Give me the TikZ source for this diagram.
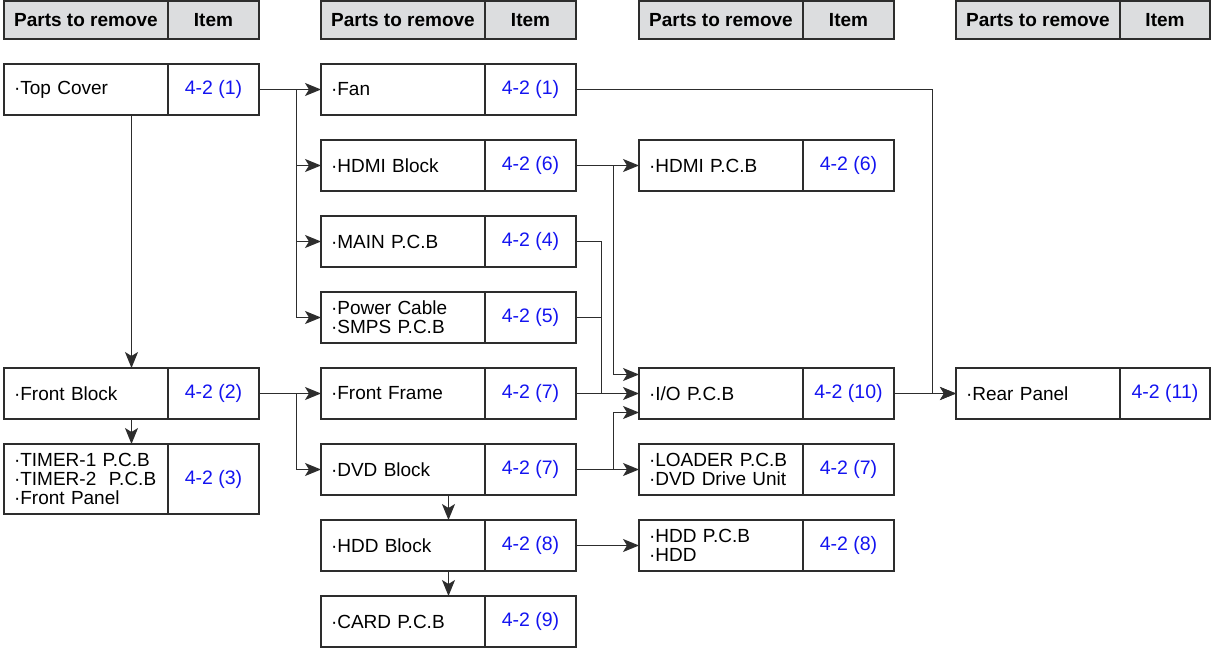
\documentclass[tikz,border=0pt]{standalone}
\usepackage{fontspec}
\setmainfont{Liberation Sans}
\usetikzlibrary{arrows.meta,calc}
\definecolor{itemblue}{RGB}{20,20,240}
\definecolor{headgray}{RGB}{220,221,223}
\definecolor{linegray}{RGB}{45,45,45}
\tikzset{
  box/.style={draw=linegray, line width=1.4pt, outer sep=0pt, anchor=north west,
    minimum height=51pt, font=\fontsize{19}{19}\selectfont},
  part/.style={box, fill=white, text width=144pt, inner xsep=10pt, align=left},
  item/.style={box, minimum width=91pt, text=itemblue, align=center, font=\fontsize{19.5}{19}\selectfont},
  head/.style={box, fill=headgray, minimum height=38pt, font=\fontsize{19}{19}\selectfont\bfseries},
  arr/.style={draw=linegray, line width=1pt, -{Stealth[length=16pt,width=13pt,inset=4pt]}},
  wire/.style={draw=linegray, line width=1pt},
}
\begin{document}
\begin{tikzpicture}[x=1pt,y=-1pt]
  \useasboundingbox (0,0) rectangle (1211,650);
  % table heads
  \node[head, minimum width=164pt] (hA) at (4,1) {Parts to remove};
  \node[head, minimum width=91pt] (hAi) at (hA.north east) {Item};
  \node[head, minimum width=164pt] (hB) at (321,1) {Parts to remove};
  \node[head, minimum width=91pt] (hBi) at (hB.north east) {Item};
  \node[head, minimum width=164pt] (hC) at (639,1) {Parts to remove};
  \node[head, minimum width=91pt] (hCi) at (hC.north east) {Item};
  \node[head, minimum width=164pt] (hD) at (956,1) {Parts to remove};
  \node[head, minimum width=90pt] (hDi) at (hD.north east) {Item};
  % first column
  \node[part] (top) at (4,64) {·Top Cover};
  \node[item] (topI) at (top.north east) {4-2 (1)};
  \node[part] (front) at (4,368) {·Front Block};
  \node[item] (frontI) at (front.north east) {4-2 (2)};
  \node[part, minimum height=70pt] (timer) at (4,444) {·TIMER-1 P.C.B\\·TIMER-2~~P.C.B\\·Front Panel};
  \node[item, minimum height=70pt] (timerI) at (timer.north east) {4-2 (3)};
  % second column
  \node[part] (fan) at (321,64) {·Fan};
  \node[item] (fanI) at (fan.north east) {4-2 (1)};
  \node[part] (hdmi) at (321,140) {·HDMI Block};
  \node[item] (hdmiI) at (hdmi.north east) {4-2 (6)};
  \node[part] (main) at (321,216) {·MAIN P.C.B};
  \node[item] (mainI) at (main.north east) {4-2 (4)};
  \node[part] (pow) at (321,292) {·Power Cable\\·SMPS P.C.B};
  \node[item] (powI) at (pow.north east) {4-2 (5)};
  \node[part] (ff) at (321,368) {·Front Frame};
  \node[item] (ffI) at (ff.north east) {4-2 (7)};
  \node[part] (dvd) at (321,444) {·DVD Block};
  \node[item] (dvdI) at (dvd.north east) {4-2 (7)};
  \node[part] (hdd) at (321,520) {·HDD Block};
  \node[item] (hddI) at (hdd.north east) {4-2 (8)};
  \node[part] (card) at (321,596) {·CARD P.C.B};
  \node[item] (cardI) at (card.north east) {4-2 (9)};
  % third column
  \node[part] (hpcb) at (639,140) {·HDMI P.C.B};
  \node[item] (hpcbI) at (hpcb.north east) {4-2 (6)};
  \node[part] (io) at (639,368) {·I/O P.C.B};
  \node[item] (ioI) at (io.north east) {4-2 (10)};
  \node[part] (loader) at (639,444) {·LOADER P.C.B\\·DVD Drive Unit};
  \node[item] (loaderI) at (loader.north east) {4-2 (7)};
  \node[part] (hddpcb) at (639,520) {·HDD P.C.B\\·HDD};
  \node[item] (hddpcbI) at (hddpcb.north east) {4-2 (8)};
  % fourth column
  \node[part] (rear) at (956,368) {·Rear Panel};
  \node[item, minimum width=90pt] (rearI) at (rear.north east) {4-2 (11)};
  % junctions
  \coordinate (ja) at (296,89.5);
  \coordinate (jf) at (296,393.5);
  \coordinate (jh) at (613,165.5);
  \coordinate (jm) at (601,393.5);
  \coordinate (jd) at (613,469.5);
  \coordinate (jr) at (932,393.5);
  % connectors
  \draw[arr] (topI.east) -- (fan.west);
  \draw[arr] (ja) |- (hdmi.west);
  \draw[arr] (ja) |- (main.west);
  \draw[arr] (ja) |- (pow.west);
  \draw[arr] ($(top.south west)!0.5!(topI.south east)$) -- ($(front.north west)!0.5!(frontI.north east)$);
  \draw[arr] ($(front.south west)!0.5!(frontI.south east)$) -- ($(timer.north west)!0.5!(timerI.north east)$);
  \draw[arr] (frontI.east) -- (ff.west);
  \draw[arr] (jf) |- (dvd.west);
  \draw[arr] (fanI.east) -| (jr) -- (rear.west);
  \draw[arr] (ioI.east) -- (rear.west);
  \draw[arr] (hdmiI.east) -- (hpcb.west);
  \draw[arr] (jh) |- ([yshift=19pt]io.west);
  \draw[wire] (mainI.east) -| (jm);
  \draw[wire] (powI.east) -- (powI.east -| jm);
  \draw[arr] (ffI.east) -- (io.west);
  \draw[arr] (dvdI.east) -- (loader.west);
  \draw[arr] (jd) |- ([yshift=-19pt]io.west);
  \draw[arr] ($(dvd.south west)!0.5!(dvdI.south east)$) -- ($(hdd.north west)!0.5!(hddI.north east)$);
  \draw[arr] ($(hdd.south west)!0.5!(hddI.south east)$) -- ($(card.north west)!0.5!(cardI.north east)$);
  \draw[arr] (hddI.east) -- (hddpcb.west);
\end{tikzpicture}
\end{document}
